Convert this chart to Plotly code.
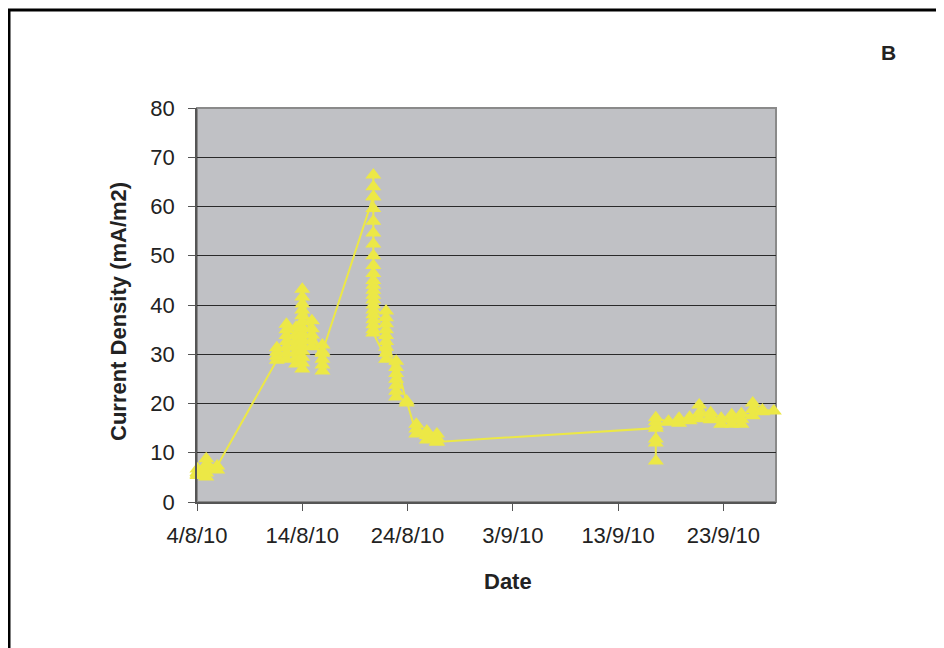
import plotly.graph_objects as go

# reading sessions (date/time) and the current density values logged in each
reading_times = [
    "2010-08-04 01:00", "2010-08-04 21:00", "2010-08-05 22:00",
    "2010-08-11 14:00", "2010-08-12 12:00", "2010-08-13 10:00", "2010-08-14 00:00",
    "2010-08-14 22:00", "2010-08-15 22:00",
    "2010-08-20 18:00", "2010-08-21 23:00", "2010-08-22 22:00", "2010-08-23 22:00",
    "2010-08-24 20:00", "2010-08-25 20:00", "2010-08-26 19:00",
    "2010-09-16 14:00", "2010-09-17 19:00", "2010-09-18 19:00", "2010-09-19 19:00",
    "2010-09-20 17:00", "2010-09-21 19:00", "2010-09-22 19:00", "2010-09-23 19:00",
    "2010-09-24 17:00", "2010-09-25 19:00", "2010-09-26 17:00", "2010-09-27 19:00",
]
density_readings = [
    [6.7, 6.0, 5.7, 5.4], [5.1, 5.9, 6.8, 7.6, 8.8], [6.5, 7.3],
    [28.8, 29.6, 30.4, 31.3],
    [29.0, 30.2, 31.4, 32.6, 33.8, 35.0, 36.1],
    [28.0, 29.2, 30.4, 31.6, 32.8, 34.0, 35.5],
    [27.0, 28.2, 29.4, 30.6, 31.8, 33.0, 34.2, 35.4, 36.6, 37.8, 39.0, 40.2, 41.6, 43.2],
    [31.5, 32.7, 33.9, 35.2, 36.8],
    [26.6, 27.8, 29.0, 30.2, 31.9, 30.5],
    [62.0, 66.4, 64.0, 62.0, 59.6, 57.0, 54.6, 52.4, 50.0, 48.0, 46.4, 45.0, 44.0,
     43.0, 42.0, 41.0, 40.0, 39.0, 38.0, 37.0, 36.0, 35.0, 34.3],
    [29.0, 30.2, 31.4, 32.6, 33.8, 35.0, 36.2, 37.4, 38.8],
    [21.3, 22.5, 23.7, 24.9, 26.1, 27.3, 28.6],
    [20.1, 20.5],
    [13.8, 14.8, 15.8], [12.6, 13.5, 14.4], [12.2, 13.0, 13.8, 12.2],
    [15.0, 12.0, 8.3, 12.8, 15.5, 16.3, 17.1], [16.2, 16.4], [16.0, 17.0], [16.5, 17.2],
    [16.9, 18.0, 19.7], [16.7, 17.4, 18.1], [15.8, 17.0], [15.8, 16.8, 17.7],
    [15.8, 16.8, 17.9], [17.5, 18.8, 20.1], [18.3, 18.7], [18.5],
]

tick_dates = ["2010-08-04", "2010-08-14", "2010-08-24", "2010-09-03", "2010-09-13", "2010-09-23"]
tick_labels = ["4/8/10", "14/8/10", "24/8/10", "3/9/10", "13/9/10", "23/9/10"]

x = []
y = []
for t, vals in zip(reading_times, density_readings):
    for v in vals:
        x.append(t)
        y.append(v)

YELLOW = "#ECE846"
FONT = "Liberation Sans, Arial, sans-serif"
TEXT = "#222222"

# page puts the figure 8px in from the top-left corner
OFF = 8
W, H = 944, 648
pw, ph = 579, 394
L, T = 197 - OFF, 108 - OFF
R, B = W - L - pw, H - T - ph


def px_x(p):
    return (p - OFF - L) / pw


def px_y(p):
    return (H - B - (p - OFF)) / ph


fig = go.Figure()
fig.add_trace(go.Scatter(
    x=x, y=y, mode="lines+markers",
    line=dict(color=YELLOW, width=2),
    marker=dict(symbol="triangle-up", size=14, color=YELLOW),
    cliponaxis=False, showlegend=False,
))

fig.update_layout(
    width=W, height=H,
    margin=dict(l=L, r=R, t=T, b=B),
    paper_bgcolor="white", plot_bgcolor="#C0C1C5",
    font=dict(family=FONT, size=22, color=TEXT),
    xaxis=dict(
        type="date", range=["2010-08-04", "2010-09-28"],
        tickvals=tick_dates, ticktext=tick_labels,
        showgrid=False, zeroline=False,
        showline=True, linecolor="#555555", linewidth=1.5,
        ticks="outside", ticklen=7, tickcolor="#555555",
        ticklabelstandoff=6,
    ),
    yaxis=dict(
        range=[0, 80], dtick=10,
        showgrid=True, gridcolor="#2a2a2a", gridwidth=1,
        zeroline=False,
        showline=True, linecolor="#555555", linewidth=1.5,
        ticks="outside", ticklen=7, tickcolor="#555555",
        ticklabelstandoff=9,
    ),
    shapes=[
        # grey plot-area border (top/right)
        dict(type="rect", xref="paper", yref="paper", x0=0, x1=1, y0=0, y1=1,
             line=dict(color="#8a8a8a", width=2), layer="below"),
        # black outer frame, cut off at right and bottom
        dict(type="rect", xref="paper", yref="paper",
             x0=px_x(9), x1=px_x(990), y0=px_y(690), y1=px_y(10),
             line=dict(color="black", width=3)),
    ],
    annotations=[
        dict(text="<b>Current Density (mA/m2)</b>", xref="paper", yref="paper",
             x=px_x(118), y=px_y(312), textangle=-90, showarrow=False,
             xanchor="center", yanchor="middle", font=dict(size=22, color=TEXT)),
        dict(text="<b>Date</b>", xref="paper", yref="paper",
             x=px_x(508), y=px_y(581), showarrow=False,
             xanchor="center", yanchor="middle", font=dict(size=22, color=TEXT)),
        dict(text="<b>B</b>", xref="paper", yref="paper",
             x=px_x(888), y=px_y(52), showarrow=False,
             xanchor="center", yanchor="middle", font=dict(size=21, color=TEXT)),
    ],
)

fig.write_html("out.html")
